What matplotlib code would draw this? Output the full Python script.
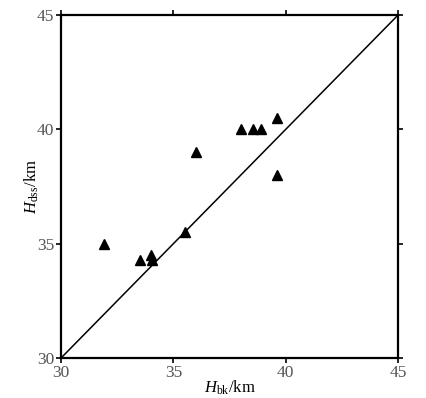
import matplotlib
matplotlib.use("Agg")
import matplotlib.pyplot as plt

h_bk = [31.9, 33.5, 34.0, 34.05, 35.5, 36.0, 38.0, 38.55, 38.9, 39.6, 39.6]
h_dss = [35.0, 34.3, 34.5, 34.3, 35.5, 39.0, 40.0, 40.0, 40.0, 40.5, 38.0]
ticks = [30, 35, 40, 45]
line_x = [30, 45]
line_y = [30, 45]

plt.rcParams['font.family'] = ['Liberation Serif', 'DejaVu Serif']
plt.rcParams['mathtext.fontset'] = 'custom'
plt.rcParams['mathtext.it'] = 'Liberation Serif:italic'
plt.rcParams['mathtext.rm'] = 'Liberation Serif'

fig = plt.figure(figsize=(4.27, 3.98), dpi=100)
ax = fig.add_axes([0.143, 0.1005, 0.789, 0.8615])
ax.plot(line_x, line_y, color='black', lw=1.1)
ax.plot(h_bk, h_dss, linestyle='none', marker='^', color='black', markersize=6.5)
ax.set_xlim(30, 45)
ax.set_ylim(30, 45)
ax.set_xticks(ticks)
ax.set_yticks(ticks)
ax.tick_params(direction='out', length=3.5, width=1.2, top=True, right=True,
               labeltop=False, labelright=False, labelsize=12.5, colors='black',
               labelcolor='#555555', pad=1.5)
for s in ax.spines.values():
    s.set_linewidth(1.6)
ax.set_xlabel(r'$H_{\mathrm{bk}}$/km', fontsize=12, labelpad=-2)
ax.set_ylabel(r'$H_{\mathrm{dss}}$/km', fontsize=12, labelpad=-3)
fig.savefig('out.png', dpi=100)
